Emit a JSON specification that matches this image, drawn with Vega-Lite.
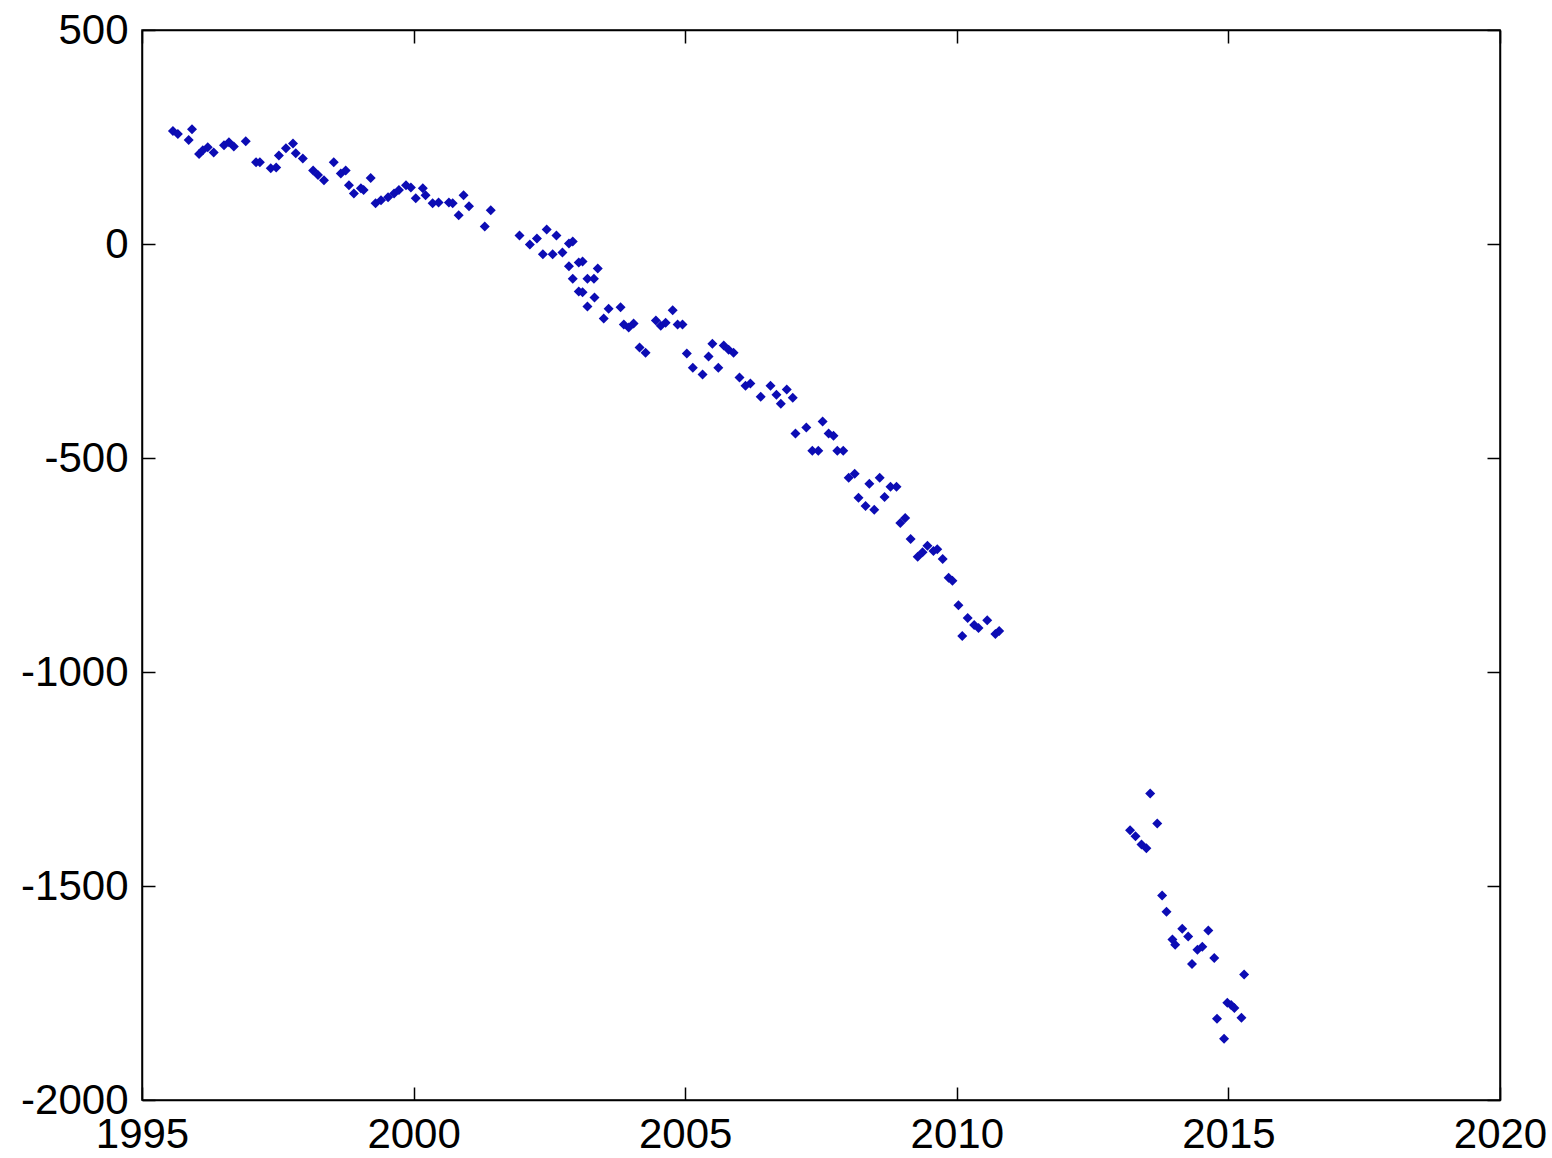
{
  "$schema": "https://vega.github.io/schema/vega-lite/v6.json",
  "width": 1358,
  "height": 1070,
  "autosize": {"type": "none"},
  "padding": {"left": 142, "top": 30, "right": 52, "bottom": 58},
  "background": "white",
  "config": {
    "view": {"stroke": "black", "strokeWidth": 1.5},
    "axis": {
      "grid": false,
      "domainColor": "black",
      "domainWidth": 1.5,
      "tickColor": "black",
      "tickWidth": 1.5,
      "labelFont": "Liberation Sans",
      "labelFontSize": 42,
      "labelColor": "black",
      "title": null
    }
  },
  "data": {
    "values": [
      {"t": 1995.57, "v": 264}, {"t": 1995.66, "v": 257}, {"t": 1995.86, "v": 243}, {"t": 1995.92, "v": 268},
      {"t": 1996.05, "v": 210}, {"t": 1996.12, "v": 219}, {"t": 1996.21, "v": 226}, {"t": 1996.32, "v": 214},
      {"t": 1996.51, "v": 231}, {"t": 1996.60, "v": 238}, {"t": 1996.69, "v": 228}, {"t": 1996.91, "v": 240},
      {"t": 1997.10, "v": 191}, {"t": 1997.17, "v": 191}, {"t": 1997.37, "v": 177}, {"t": 1997.47, "v": 179},
      {"t": 1997.52, "v": 207}, {"t": 1997.65, "v": 224}, {"t": 1997.78, "v": 235}, {"t": 1997.83, "v": 212},
      {"t": 1997.96, "v": 200}, {"t": 1998.15, "v": 172}, {"t": 1998.24, "v": 161}, {"t": 1998.35, "v": 149},
      {"t": 1998.53, "v": 191}, {"t": 1998.66, "v": 165}, {"t": 1998.75, "v": 172}, {"t": 1998.81, "v": 137},
      {"t": 1998.90, "v": 118}, {"t": 1999.03, "v": 130}, {"t": 1999.08, "v": 126}, {"t": 1999.21, "v": 154},
      {"t": 1999.30, "v": 95}, {"t": 1999.40, "v": 102}, {"t": 1999.53, "v": 109}, {"t": 1999.64, "v": 118},
      {"t": 1999.73, "v": 126}, {"t": 1999.86, "v": 137}, {"t": 1999.95, "v": 132}, {"t": 2000.04, "v": 107},
      {"t": 2000.17, "v": 130}, {"t": 2000.22, "v": 114}, {"t": 2000.35, "v": 95}, {"t": 2000.46, "v": 97},
      {"t": 2000.65, "v": 97}, {"t": 2000.72, "v": 95}, {"t": 2000.83, "v": 67}, {"t": 2000.92, "v": 114},
      {"t": 2001.02, "v": 88}, {"t": 2001.31, "v": 41}, {"t": 2001.42, "v": 79},
      {"t": 2001.95, "v": 20}, {"t": 2002.14, "v": -1}, {"t": 2002.27, "v": 13}, {"t": 2002.45, "v": 34},
      {"t": 2002.63, "v": 20}, {"t": 2002.38, "v": -24}, {"t": 2002.56, "v": -24}, {"t": 2002.74, "v": -20},
      {"t": 2002.86, "v": 1}, {"t": 2002.93, "v": 6}, {"t": 2002.86, "v": -52}, {"t": 2003.04, "v": -43},
      {"t": 2003.11, "v": -41}, {"t": 2003.39, "v": -57}, {"t": 2002.93, "v": -81}, {"t": 2003.20, "v": -81},
      {"t": 2003.32, "v": -81}, {"t": 2003.04, "v": -111}, {"t": 2003.11, "v": -113}, {"t": 2003.33, "v": -125},
      {"t": 2003.20, "v": -146}, {"t": 2003.59, "v": -151}, {"t": 2003.81, "v": -148}, {"t": 2003.50, "v": -174},
      {"t": 2003.87, "v": -188}, {"t": 2003.96, "v": -195}, {"t": 2004.05, "v": -186}, {"t": 2004.16, "v": -242},
      {"t": 2004.27, "v": -254}, {"t": 2004.46, "v": -179}, {"t": 2004.55, "v": -191}, {"t": 2004.64, "v": -184},
      {"t": 2004.77, "v": -155}, {"t": 2004.86, "v": -188}, {"t": 2004.95, "v": -188}, {"t": 2005.03, "v": -256},
      {"t": 2005.14, "v": -289}, {"t": 2005.32, "v": -305}, {"t": 2005.43, "v": -263}, {"t": 2005.50, "v": -233},
      {"t": 2005.61, "v": -289}, {"t": 2005.71, "v": -237}, {"t": 2005.80, "v": -247}, {"t": 2005.89, "v": -254},
      {"t": 2006.00, "v": -312}, {"t": 2006.11, "v": -331}, {"t": 2006.20, "v": -326}, {"t": 2006.39, "v": -357},
      {"t": 2006.57, "v": -331}, {"t": 2006.68, "v": -352}, {"t": 2006.76, "v": -373}, {"t": 2006.87, "v": -340},
      {"t": 2006.98, "v": -359}, {"t": 2007.03, "v": -443}, {"t": 2007.23, "v": -429}, {"t": 2007.34, "v": -483},
      {"t": 2007.45, "v": -483}, {"t": 2007.53, "v": -415}, {"t": 2007.64, "v": -443}, {"t": 2007.73, "v": -448},
      {"t": 2007.80, "v": -483}, {"t": 2007.91, "v": -483}, {"t": 2008.01, "v": -546}, {"t": 2008.12, "v": -537},
      {"t": 2008.19, "v": -593}, {"t": 2008.32, "v": -612}, {"t": 2008.39, "v": -560}, {"t": 2008.48, "v": -621},
      {"t": 2008.58, "v": -546}, {"t": 2008.67, "v": -591}, {"t": 2008.78, "v": -567}, {"t": 2008.89, "v": -567},
      {"t": 2008.96, "v": -652}, {"t": 2009.05, "v": -640}, {"t": 2009.15, "v": -689}, {"t": 2009.28, "v": -731},
      {"t": 2009.37, "v": -720}, {"t": 2009.46, "v": -705}, {"t": 2009.57, "v": -717}, {"t": 2009.64, "v": -713},
      {"t": 2009.74, "v": -736}, {"t": 2009.85, "v": -780}, {"t": 2009.92, "v": -787}, {"t": 2010.03, "v": -844},
      {"t": 2010.10, "v": -916}, {"t": 2010.20, "v": -874}, {"t": 2010.32, "v": -890}, {"t": 2010.40, "v": -897},
      {"t": 2010.56, "v": -879}, {"t": 2010.71, "v": -911}, {"t": 2010.78, "v": -904},
      {"t": 2013.19, "v": -1370}, {"t": 2013.29, "v": -1384}, {"t": 2013.40, "v": -1403}, {"t": 2013.49, "v": -1412},
      {"t": 2013.56, "v": -1284}, {"t": 2013.69, "v": -1354}, {"t": 2013.78, "v": -1522}, {"t": 2013.86, "v": -1560},
      {"t": 2013.97, "v": -1625}, {"t": 2014.02, "v": -1637}, {"t": 2014.15, "v": -1600}, {"t": 2014.26, "v": -1618},
      {"t": 2014.33, "v": -1682}, {"t": 2014.43, "v": -1649}, {"t": 2014.52, "v": -1642}, {"t": 2014.63, "v": -1604},
      {"t": 2014.74, "v": -1668}, {"t": 2014.79, "v": -1810}, {"t": 2014.92, "v": -1857}, {"t": 2014.98, "v": -1773},
      {"t": 2015.05, "v": -1778}, {"t": 2015.11, "v": -1785}, {"t": 2015.24, "v": -1808}, {"t": 2015.29, "v": -1707}
    ]
  },
  "layer": [
    {
      "mark": {"type": "point", "shape": "diamond", "filled": true, "color": "#0c0cb4", "opacity": 1, "size": 100},
      "encoding": {
        "x": {"field": "t", "type": "quantitative",
          "scale": {"domain": [1995, 2020], "nice": false, "zero": false},
          "axis": {"orient": "bottom", "values": [1995, 2000, 2005, 2010, 2015, 2020], "labelExpr": "toString(datum.value)", "tickSize": -13, "labelPadding": 27, "labelFlush": false, "labelOverlap": false}},
        "y": {"field": "v", "type": "quantitative",
          "scale": {"domain": [-2000, 500], "nice": false, "zero": false},
          "axis": {"orient": "left", "values": [-2000, -1500, -1000, -500, 0, 500], "labelExpr": "toString(datum.value)", "tickSize": -13, "labelPadding": 27, "labelFlush": false, "labelOverlap": false}}
      }
    },
    {
      "mark": {"type": "point", "opacity": 0},
      "encoding": {
        "x": {"field": "t", "type": "quantitative",
          "axis": {"orient": "top", "values": [1995, 2000, 2005, 2010, 2015, 2020], "labels": false, "tickSize": -13}},
        "y": {"field": "v", "type": "quantitative",
          "axis": {"orient": "right", "values": [-2000, -1500, -1000, -500, 0, 500], "labels": false, "tickSize": -13}}
      }
    }
  ],
  "resolve": {"axis": {"x": "independent", "y": "independent"}}
}
